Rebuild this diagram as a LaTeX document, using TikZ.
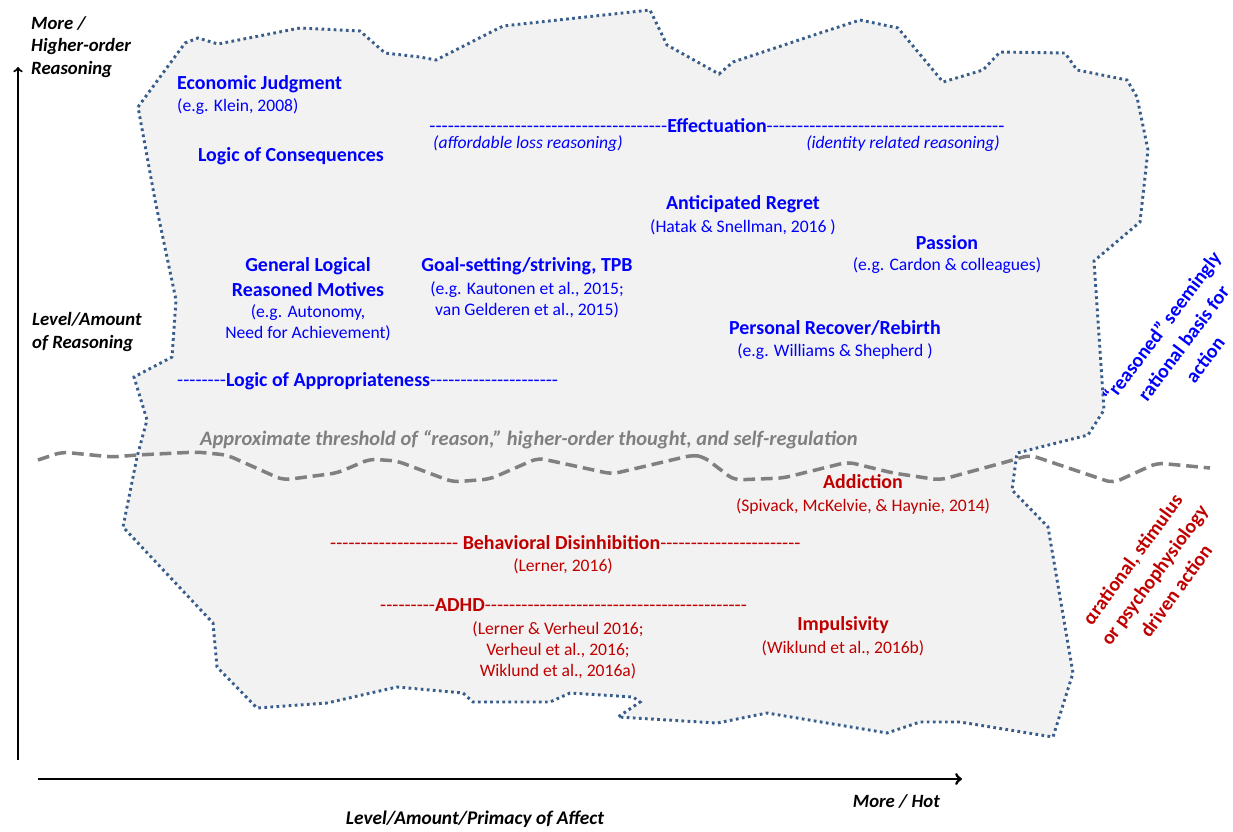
\documentclass[tikz,border=0pt]{standalone}
\usepackage{fontspec}
\setmainfont{Carlito}
\usepackage{xcolor}
\usetikzlibrary{arrows}

\definecolor{reasonblue}{RGB}{0,0,255}
\definecolor{affectred}{RGB}{192,0,0}
\definecolor{blobline}{RGB}{56,93,138}
\definecolor{blobfill}{RGB}{242,242,242}
\definecolor{threshgray}{RGB}{128,128,128}

% a run of plain hyphens (one box each, so no dash ligatures)
\newcommand{\dashrun}[1]{{\mdseries\foreach \k in {1,...,#1}{\mbox{-}}}}

\begin{document}
\begin{tikzpicture}[x=0.03cm, y=-0.03cm]
  \tikzstyle{heading}=[font=\fontsize{17}{21}\selectfont\bfseries, inner sep=0pt, align=center]
  \tikzstyle{cite}=[font=\fontsize{15}{18}\selectfont, inner sep=0pt, align=center]
  \tikzstyle{axislabel}=[font=\fontsize{16}{19.5}\selectfont\bfseries\itshape, inner sep=0pt, align=left]
  \tikzstyle{sidelabel}=[font=\fontsize{17}{23}\selectfont\bfseries, inner sep=0pt, align=center]
  \tikzstyle{blob}=[draw=blobline, fill=blobfill, line width=2.5pt, dash pattern=on 2.3pt off 2.9pt]
  \tikzstyle{threshold}=[draw=threshgray, line width=3pt, dash pattern=on 10pt off 5pt, rounded corners=6pt]
  \tikzstyle{axis}=[->, black]

  \useasboundingbox (0,0) rectangle (1233,831);

  % Area of reasoning
  \path[blob] (138,107) -- (185,43) -- (198,38) -- (218,44) -- (300,28) -- (360,31)
    -- (385,53) -- (420,57) -- (436,60) -- (503,26) -- (650,10) -- (667,45)
    -- (719,74) -- (733,62) -- (820,33) -- (860,20) -- (898,28) -- (943,82)
    -- (983,70) -- (1000,52) -- (1065,53) -- (1077,70) -- (1127,80) -- (1137,97)
    -- (1148,150) -- (1140,222) -- (1094,261) -- (1104,410) -- (1088,435)
    -- (1017,453) -- (1012,490) -- (1048,527) -- (1073,673) -- (1053,737)
    -- (960,722) -- (920,722) -- (887,733) -- (767,713) -- (717,723) -- (618,717)
    -- (640,702) -- (633,697) -- (570,693) -- (550,702) -- (473,702) -- (463,693)
    -- (397,687) -- (327,703) -- (257,708) -- (217,667) -- (213,623) -- (123,527)
    -- (137,457) -- (147,420) -- (134,377) -- (172,357) -- (176,300) -- (155,200)
    -- cycle;

  % Threshold line
  \draw[threshold] (38,460) -- (62,452) -- (112,457) -- (137,455) -- (197,452)
    -- (227,455) -- (283,480) -- (337,473) -- (370,459) -- (397,461) -- (453,482)
    -- (490,479) -- (538,458) -- (612,474) -- (693,455) -- (704,457) -- (734,480)
    -- (783,478) -- (848,462) -- (893,473) -- (940,480) -- (1013,460) -- (1030,455)
    -- (1113,483) -- (1157,463) -- (1210,468);

  % Axes
  \coordinate (vbase) at (18,760);
  \coordinate (vtop) at (18,67);
  \coordinate (hbase) at (38,779);
  \coordinate (hend) at (962,779);
  \draw[axis, line width=1.8pt] (vbase) -- (vtop);
  \draw[axis, line width=2.5pt] (hbase) -- (hend);

  \node[axislabel, anchor=north west] (moreup) at (31,16) {More /\\Higher-order\\Reasoning};
  \node[axislabel, anchor=west] (levelreason) at (32,332) {Level/Amount\\of Reasoning};
  \node[axislabel, anchor=east] (morehot) at (940,801) {More / Hot};
  \node[axislabel, font=\fontsize{16.5}{19.5}\selectfont\bfseries\itshape] (levelaffect) at (475,819) {Level/Amount/Primacy of Affect};

  % Reasoned (blue)
  \node[heading, reasonblue, anchor=west] (econ) at (177,84) {Economic Judgment};
  \node[cite, reasonblue, anchor=west] (econref) at (177,107) {(e.g. Klein, 2008)};
  \node[heading, reasonblue] (conseq) at (291,156) {Logic of Consequences};
  \node[heading, reasonblue] (effect) at (717,126) {\dashrun{39}Effectuation\dashrun{39}};
  \node[cite, reasonblue, anchor=west, font=\fontsize{15}{18}\selectfont\itshape] (afford) at (433,144) {(affordable loss reasoning)};
  \node[cite, reasonblue, anchor=east, font=\fontsize{15}{18}\selectfont\itshape] (identity) at (1000,144) {(identity related reasoning)};
  \node[heading, reasonblue] (regret) at (743,204) {Anticipated Regret};
  \node[cite, reasonblue] (regretref) at (743,227) {(Hatak \& Snellman, 2016 )};
  \node[heading, reasonblue] (passion) at (947,243) {Passion};
  \node[cite, reasonblue] (passionref) at (947,266) {(e.g. Cardon \& colleagues)};
  \node[heading, reasonblue] (general) at (308,277) {General Logical\\Reasoned Motives};
  \node[cite, reasonblue] (generalref) at (308,323) {(e.g. Autonomy,\\Need for Achievement)};
  \node[heading, reasonblue] (goal) at (527,266) {Goal-setting/striving, TPB};
  \node[cite, reasonblue] (goalref) at (527,300) {(e.g. Kautonen et al., 2015;\\van Gelderen et al., 2015)};
  \node[heading, reasonblue] (rebirth) at (835,328) {Personal Recover/Rebirth};
  \node[cite, reasonblue] (rebirthref) at (835,352) {(e.g. Williams \& Shepherd )};
  \node[heading, reasonblue, anchor=west] (approp) at (177,381) {\dashrun{8}Logic of Appropriateness\dashrun{21}};

  \node[font=\fontsize{17.5}{21}\selectfont\bfseries\itshape, threshgray, inner sep=0pt] (thresh) at (529,440) {Approximate threshold of “reason,” higher-order thought, and self-regulation};

  % Affect driven (red)
  \node[heading, affectred] (addict) at (863,482) {Addiction};
  \node[cite, affectred] (addictref) at (863,506) {(Spivack, McKelvie, \& Haynie, 2014)};
  \node[heading, affectred, anchor=west] (disinhib) at (330,543) {\dashrun{21} Behavioral Disinhibition\dashrun{23}};
  \node[cite, affectred] (disinhibref) at (563,566) {(Lerner, 2016)};
  \node[heading, affectred, anchor=west] (adhd) at (380,605) {\dashrun{9}ADHD\dashrun{43}};
  \node[cite, affectred] (adhdref) at (558,650) {(Lerner \& Verheul 2016;\\Verheul et al., 2016;\\Wiklund et al., 2016a)};
  \node[heading, affectred] (impuls) at (843,625) {Impulsivity};
  \node[cite, affectred] (impulsref) at (843,648) {(Wiklund et al., 2016b)};

  % Side labels
  \node[sidelabel, reasonblue, rotate=53] (rationalbasis) at (1183,343) {“reasoned” seemingly\\rational basis for\\action};
  \node[sidelabel, affectred, rotate=54] (arational) at (1154,575) {αrational, stimulus\\or psychophysiology\\driven action};
\end{tikzpicture}
\end{document}
